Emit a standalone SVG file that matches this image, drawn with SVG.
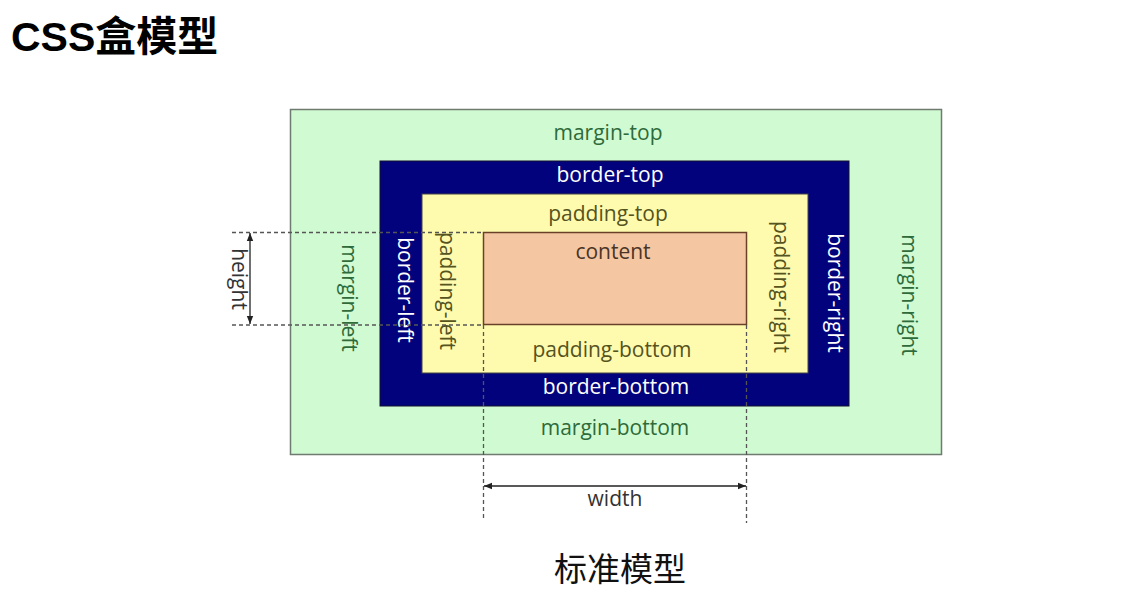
<svg xmlns="http://www.w3.org/2000/svg" width="1148" height="598" viewBox="0 0 1148 598">
<defs>
<style>
.lbl{font-family:"Open Sans","Noto Sans",sans-serif;font-size:21px;text-anchor:middle;dominant-baseline:central}
.m{fill:#2f6a3a}
.b{fill:#ffffff}
.p{fill:#55531e}
.c{fill:#4a3426}
.d{fill:#333333}
.dash{stroke:#555;stroke-width:1.3;stroke-dasharray:4 3;fill:none}
.arr{stroke:#222;stroke-width:1.3;fill:none}
</style>
<marker id="ah" viewBox="0 0 10 10" refX="10" refY="5" markerWidth="8" markerHeight="8" orient="auto-start-reverse" markerUnits="userSpaceOnUse">
<path d="M0,1 L10,5 L0,9 Z" fill="#222"/>
</marker>
</defs>
<rect width="1148" height="598" fill="#ffffff"/>
<text x="11" y="51" style="font-family:'Liberation Sans','Noto Sans CJK SC',sans-serif;font-size:41px;font-weight:bold" fill="#000">CSS盒模型</text>

<g id="margin">
<rect x="290.5" y="109.5" width="651" height="345" fill="#d0fbd2" stroke="#6f7a70" stroke-width="1.5"/>
<text class="lbl m" x="608" y="132">margin-top</text>
<text class="lbl m" x="615" y="427">margin-bottom</text>
<text class="lbl m" transform="translate(350,298) rotate(90)">margin-left</text>
<text class="lbl m" transform="translate(910,295) rotate(90)">margin-right</text>
</g>
<g id="border">
<rect x="380" y="161" width="469" height="245" fill="#02037c" stroke="#101030" stroke-width="1"/>
<text class="lbl b" x="610" y="174">border-top</text>
<text class="lbl b" x="616" y="386">border-bottom</text>
<text class="lbl b" transform="translate(406,290) rotate(90)">border-left</text>
<text class="lbl b" transform="translate(836,293) rotate(90)">border-right</text>
</g>
<g id="padding">
<rect x="422" y="194" width="386" height="179" fill="#fffbae" stroke="#444" stroke-width="1"/>
<text class="lbl p" x="608" y="213">padding-top</text>
<text class="lbl p" x="612" y="349">padding-bottom</text>
<text class="lbl p" transform="translate(448,291) rotate(90)">padding-left</text>
<text class="lbl p" transform="translate(782,287) rotate(90)">padding-right</text>
</g>
<g id="content">
<rect x="483.5" y="232.5" width="263" height="92" fill="#f5c6a2" stroke="#6a4028" stroke-width="1.5"/>
<text class="lbl c" x="613" y="251">content</text>
</g>

<g id="connectors">
<line class="dash" x1="232" y1="232.5" x2="483" y2="232.5"/>
<line class="dash" x1="232" y1="325" x2="483" y2="325"/>
<line class="dash" x1="483.5" y1="325" x2="483.5" y2="521"/>
<line class="dash" x1="746.5" y1="325" x2="746.5" y2="523"/>
<line class="arr" x1="250" y1="233" x2="250" y2="324" marker-start="url(#ah)" marker-end="url(#ah)"/>
<line class="arr" x1="484" y1="486" x2="746" y2="486" marker-start="url(#ah)" marker-end="url(#ah)"/>
</g>
<g id="dim-labels">
<text class="lbl d" transform="translate(240,279) rotate(90)">height</text>
<text class="lbl d" x="615" y="498">width</text>
</g>
<text x="620" y="581" text-anchor="middle" style="font-family:'Noto Sans CJK SC',sans-serif;font-size:33px" fill="#111">标准模型</text>
</svg>
